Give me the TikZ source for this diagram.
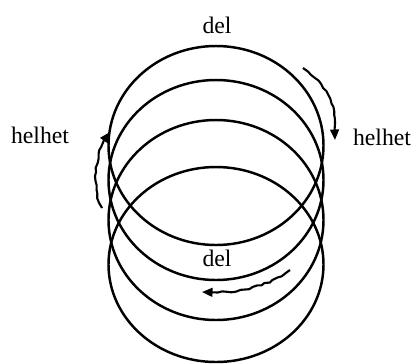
\documentclass[tikz,border=0pt]{standalone}
\usepackage{fontspec}
\setmainfont{Liberation Serif}
\usetikzlibrary{arrows.meta,decorations.pathmorphing}

\begin{document}
\begin{tikzpicture}[x=0.02cm, y=-0.02cm, >={Triangle[length=6pt,width=5pt]},
  ring/.style={line width=1.4pt},
  wiggle/.style={->, line width=1.2pt, decorate,
    decoration={random steps, segment length=2.5pt, amplitude=0.5pt, pre length=1pt, post length=6pt}},
  lbl/.style={font=\fontsize{13.5}{16}\selectfont, inner sep=0pt}]
  \useasboundingbox (0,0) rectangle (412,363);
  \pgfmathsetseed{7}
  % the four rings
  \draw[ring] (216,145.5) ellipse [x radius=107.5, y radius=99.5];
  \draw[ring] (216,180) ellipse [x radius=107.5, y radius=100];
  \draw[ring] (216,220) ellipse [x radius=107.5, y radius=100];
  \draw[ring] (216,264.5) ellipse [x radius=107.5, y radius=97.5];
  % labels
  \node[lbl] (deltop) at (217,25) {del};
  \node[lbl] (delmid) at (217,258) {del};
  \node[lbl] (helleft) at (40,135) {helhet};
  \node[lbl] (helright) at (382,137) {helhet};
  % arrow ends
  \coordinate (rs) at (303,68);
  \coordinate (re) at (335,140);
  \coordinate (ls) at (102,208);
  \coordinate (le) at (110,132);
  \coordinate (bs) at (290,270);
  \coordinate (be) at (202,292);
  \draw[wiggle] (rs) .. controls (322,82) and (334,100) .. (334,115) -- (re);
  \draw[wiggle] (ls) .. controls (92,190) and (94,150) .. (le);
  \draw[wiggle] (bs) .. controls (270,284) and (245,294) .. (be);
\end{tikzpicture}
\end{document}
